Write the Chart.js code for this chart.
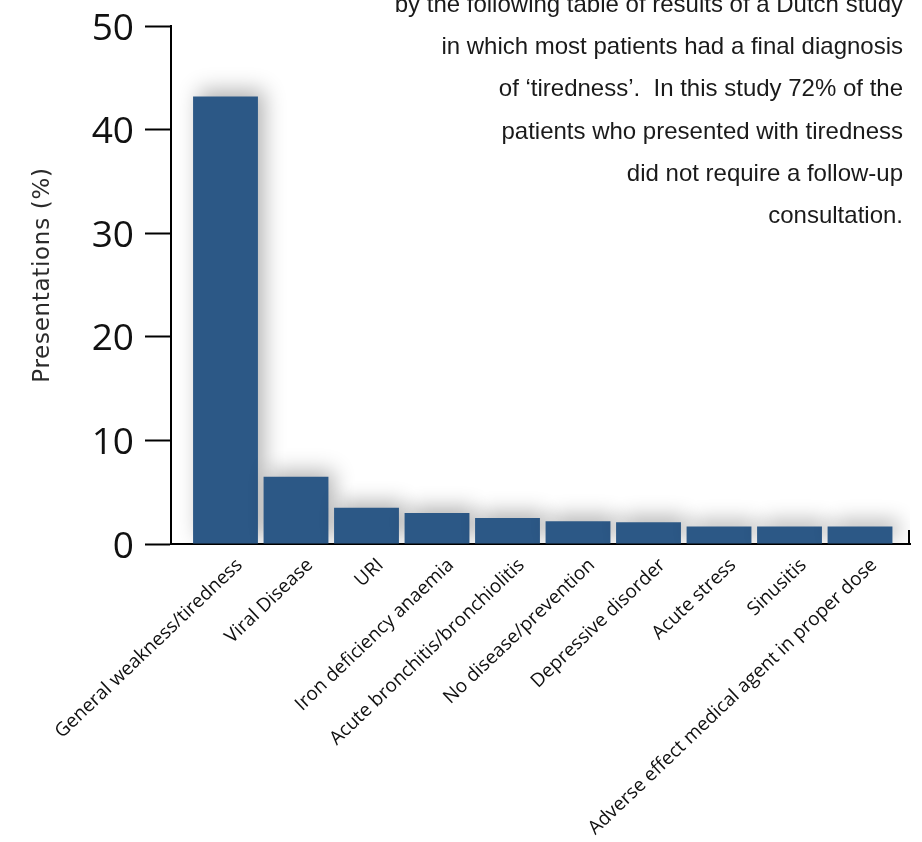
<!DOCTYPE html>
<html>
<head>
<meta charset="utf-8">
<script src="https://cdn.jsdelivr.net/npm/chart.js@4/dist/chart.umd.min.js"></script>
<style>
  html, body { margin: 0; padding: 0; background: #ffffff; }
  #wrap { position: relative; width: 922px; height: 842px; }
</style>
</head>
<body>
<div id="wrap"><canvas id="c" width="922" height="842"></canvas></div>
<script>
// Final diagnoses among patients presenting with tiredness
const categories = [
  'General weakness/tiredness',
  'Viral Disease',
  'URI',
  'Iron deficiency anaemia',
  'Acute bronchitis/bronchiolitis',
  'No disease/prevention',
  'Depressive disorder',
  'Acute stress',
  'Sinusitis',
  'Adverse effect medical agent in proper dose'
];
const presentations = [43.2, 6.5, 3.5, 3.0, 2.5, 2.2, 2.1, 1.7, 1.7, 1.7];
const yTicks = [0, 10, 20, 30, 40, 50];
const yTitle = 'Presentations (%)';
const noteLines = [
  'by the following table of results of a Dutch study',
  'in which most patients had a final diagnosis',
  'of \u2018tiredness\u2019.  In this study 72% of the',
  'patients who presented with tiredness',
  'did not require a follow-up',
  'consultation.'
];

const BAR_COLOR = '#2c5886';

// soft drop shadow behind the bars
const barShadow = {
  id: 'barShadow',
  beforeDatasetsDraw(chart) {
    const ctx = chart.ctx;
    ctx.save();
    ctx.shadowColor = 'rgba(0,0,0,0.3)';
    ctx.shadowBlur = 20;
    ctx.shadowOffsetX = 6;
    ctx.shadowOffsetY = -6;
  },
  afterDatasetsDraw(chart) {
    chart.ctx.restore();
  }
};

// small upright tick closing the right end of the x axis
const axisEnd = {
  id: 'axisEnd',
  afterDraw(chart) {
    const { ctx, chartArea } = chart;
    ctx.save();
    ctx.strokeStyle = '#000';
    ctx.lineWidth = 2;
    ctx.beginPath();
    ctx.moveTo(chartArea.right - 1, chartArea.bottom);
    ctx.lineTo(chartArea.right - 1, chartArea.bottom - 14);
    ctx.stroke();
    ctx.restore();
  }
};

// vertical axis title, letter-spaced
const yAxisTitle = {
  id: 'yAxisTitle',
  afterDraw(chart) {
    const { ctx, chartArea } = chart;
    ctx.save();
    ctx.font = '23px "DejaVu Sans", sans-serif';
    if ('letterSpacing' in ctx) ctx.letterSpacing = '0.7px';
    ctx.fillStyle = '#2a2a2a';
    ctx.textAlign = 'center';
    ctx.textBaseline = 'middle';
    ctx.translate(43, (chartArea.top + chartArea.bottom) / 2 - 10);
    ctx.rotate(-Math.PI / 2);
    ctx.fillText(yTitle, 0, 0);
    ctx.restore();
  }
};

// right-aligned note text in the upper right corner
const note = {
  id: 'note',
  afterDraw(chart) {
    const ctx = chart.ctx;
    ctx.save();
    ctx.font = '24px "Liberation Sans", Arial, sans-serif';
    ctx.fillStyle = '#1a1a1a';
    ctx.textAlign = 'right';
    ctx.textBaseline = 'alphabetic';
    const x = 903, y0 = 12, step = 42.2;
    noteLines.forEach((t, i) => ctx.fillText(t, x, y0 + i * step));
    ctx.restore();
  }
};

new Chart(document.getElementById('c'), {
  type: 'bar',
  data: {
    datasets: [{
      data: presentations.map((v, i) => ({ x: i, y: v })),
      backgroundColor: BAR_COLOR,
      borderWidth: 0,
      barPercentage: 0.92,
      categoryPercentage: 1.0
    }]
  },
  options: {
    responsive: false,
    animation: false,
    layout: { padding: { top: 26, right: 12, left: 0, bottom: 0 } },
    plugins: {
      legend: { display: false },
      tooltip: { enabled: false }
    },
    scales: {
      x: {
        type: 'linear',
        offset: false,
        min: -0.773,
        max: 9.709,
        afterBuildTicks(scale) {
          scale.ticks = categories.map((_, i) => ({ value: i }));
        },
        afterFit(scale) { scale.height = 842 - 544; },
        grid: { display: false, drawTicks: false },
        border: { display: true, color: '#000', width: 2 },
        ticks: {
          autoSkip: false,
          minRotation: 43.6,
          maxRotation: 43.6,
          padding: 10,
          labelOffset: 14,
          color: '#111',
          font: { family: '"Open Sans", sans-serif', size: 19 },
          callback: (v) => categories[v] ?? ''
        }
      },
      y: {
        min: 0,
        max: 50,
        afterBuildTicks(scale) {
          scale.ticks = yTicks.map(v => ({ value: v }));
        },
        afterFit(scale) {
          scale.width = 171;
          scale.paddingTop = 0;
          scale.paddingBottom = 0;
        },
        grid: {
          drawOnChartArea: false,
          drawTicks: true,
          tickLength: 26,
          tickColor: '#000',
          tickWidth: 2
        },
        border: { display: true, color: '#000', width: 2 },
        ticks: {
          padding: 11,
          labelOffset: 3,
          color: '#111',
          font: { family: '"Open Sans", sans-serif', size: 37, lineHeight: 0.5 }
        }
      }
    }
  },
  plugins: [barShadow, axisEnd, yAxisTitle, note]
});
</script>
</body>
</html>
